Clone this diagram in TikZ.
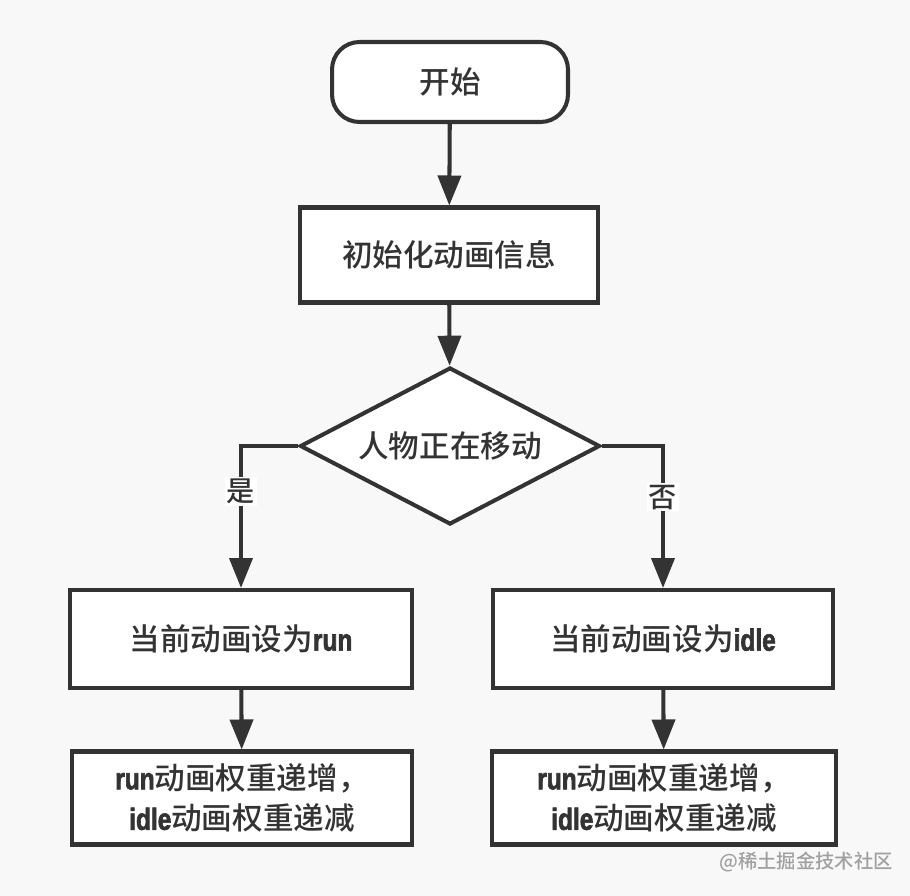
\documentclass[tikz,border=0pt]{standalone}
\usepackage{fontspec}
\setmainfont{Noto Sans CJK SC}[UprightFont=* Medium,BoldFont=* Bold]
\newfontfamily\enfont[FakeStretch=0.8,FakeBold=2]{Liberation Sans}
\usetikzlibrary{shapes,arrows,arrows.meta}
\usetikzlibrary{positioning}
\definecolor{linegray}{HTML}{333333}
\definecolor{bggray}{HTML}{F8F8F8}
\definecolor{markgray}{HTML}{A0A0A0}
\newcommand{\en}[1]{{\enfont\bfseries #1}}

\begin{document}
\begin{tikzpicture}[x=0.02cm,y=-0.02cm,
    every node/.style={text=linegray,font=\fontsize{17.4}{23}\selectfont},
    startstop/.style={draw=linegray,line width=2.3pt,fill=white,rounded corners=0.55cm,
      minimum width=4.72cm,minimum height=1.6cm,inner sep=0pt},
    proc/.style={draw=linegray,line width=2.3pt,fill=white,minimum height=1.9cm,inner sep=0pt},
    decision/.style={diamond,aspect=1.9,draw=linegray,line width=2.3pt,fill=white,
      minimum width=6cm,minimum height=3.14cm,inner sep=0pt},
    flow/.style={draw=linegray,line width=2.3pt,-{Triangle[length=0.6cm,width=0.46cm]}},
    answer/.style={fill=white,inner sep=1pt,font=\fontsize{16}{18}\selectfont}]
  \useasboundingbox (0,0) rectangle (910,896);
  \fill[bggray] (0,0) rectangle (910,896);

  % nodes
  \node[startstop] (start) at (450,82) {开始};
  \node[proc,minimum width=5.96cm] (init) at (449,255) {初始化动画信息};
  \node[decision] (moving) at (450,446) {人物正在移动};
  \node[proc,minimum width=6.84cm,minimum height=1.96cm] (setrun) at (241,639) {当前动画设为\en{run}};
  \node[proc,minimum width=6.8cm,minimum height=1.96cm] (setidle) at (663,639) {当前动画设为\en{idle}};
  \node[proc,minimum width=6.8cm,minimum height=1.86cm,align=center] (runup) at (242,798)
    {\en{run}动画权重递增，\\\en{idle}动画权重递减};
  \node[proc,minimum width=6.88cm,minimum height=1.86cm,align=center] (idleup) at (664,798)
    {\en{run}动画权重递增，\\\en{idle}动画权重递减};

  % connectors
  \draw[flow] (start) -- (init);
  \draw[flow] (init) -- (moving);
  \draw[flow] (moving.west) -| node[answer,pos=0.66] (yes) {是} (setrun.north);
  \draw[flow] (moving.east) -| node[answer,pos=0.68] (no) {否} (setidle.north);
  \draw[flow] (setrun) -- (runup);
  \draw[flow] (setidle) -- (idleup);

  % watermark
  \node[text=markgray,font=\fontsize{11}{13}\selectfont] (mark) at (806,862) {@稀土掘金技术社区};
\end{tikzpicture}
\end{document}
